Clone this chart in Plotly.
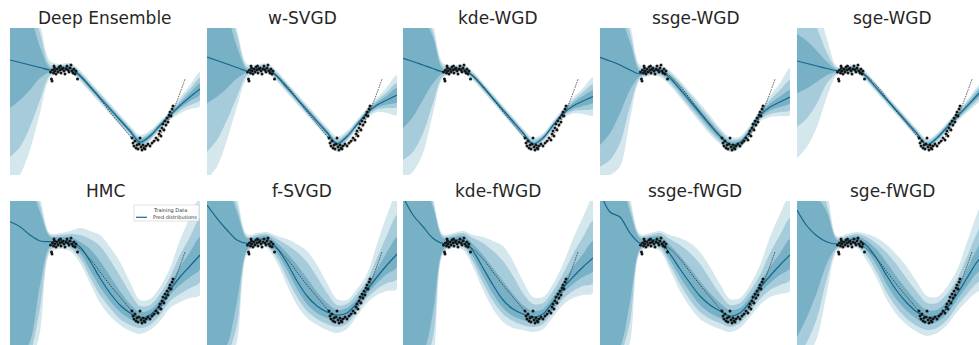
import plotly.graph_objects as go

# ---------------- data ----------------
GRID_X = [0, 1, 2, 3, 4, 5, 6, 7, 8, 9, 10, 11, 12, 13, 14, 15, 16, 17, 18, 19]

TITLES = ["Deep Ensemble", "w-SVGD", "kde-WGD", "ssge-WGD", "sge-WGD",
          "HMC", "f-SVGD", "kde-fWGD", "ssge-fWGD", "sge-fWGD"]

TRUE_X = [4.0, 4.5, 5.0, 5.5, 6.0, 6.5, 7.0, 7.5, 8.0, 8.5, 9.0, 9.5, 10.0, 10.5,
          11.0, 11.5, 12.0, 12.5, 13.0, 13.5, 14.0, 14.5, 15.0, 15.5, 16.0, 16.5, 17.0, 17.5]
TRUE_Y = [10.1, 10.25, 10.35, 10.4, 10.35, 10.15, 9.8, 9.35, 8.8, 8.2, 7.5, 6.85, 6.2, 5.6,
          5.0, 4.4, 3.8, 3.3, 2.95, 2.8, 2.9, 3.3, 3.9, 4.7, 5.7, 6.8, 8.1, 9.5]

TRAIN_X = [4.05, 4.15, 4.2, 4.25, 4.35, 4.4, 4.45, 4.5, 4.6, 4.7, 4.8, 4.9, 5.0, 5.05, 5.1,
           5.2, 5.3, 5.4, 5.5, 5.6, 5.7, 5.8, 5.9, 6.0, 6.1, 6.2, 6.3, 6.4, 6.5, 6.6, 6.75,
           12.2, 12.3, 12.4, 12.5, 12.6, 12.7, 12.8, 12.9, 13.0, 13.1, 13.2, 13.3, 13.4, 13.5,
           13.6, 13.8, 14.0, 14.2, 14.4, 14.6, 14.8, 14.9, 15.0, 15.1, 15.2, 15.3, 15.4, 15.5,
           15.6, 15.7, 15.8, 15.9, 16.0, 16.1, 16.2, 16.3]
TRAIN_Y = [10.2, 9.5, 9.3, 10.4, 10.1, 10.8, 10.6, 10.3, 10.0, 10.5, 10.2, 10.7, 10.4, 10.8, 10.1,
           10.5, 10.6, 10.3, 10.0, 10.5, 10.8, 10.4, 10.2, 10.6, 10.9, 10.3, 10.1, 10.5, 10.0, 10.3, 9.5,
           3.6, 3.1, 2.8, 3.3, 2.6, 2.9, 2.5, 3.0, 3.6, 2.7, 2.4, 2.9, 2.6, 2.5,
           2.8, 3.0, 2.8, 3.1, 3.3, 3.6, 3.4, 4.0, 4.3, 3.8, 4.6, 5.0, 4.4, 5.3,
           4.9, 5.6, 5.2, 5.9, 6.2, 5.8, 6.5, 6.8]

# Deep Ensemble
DE_mean = [11.4, 11.15, 10.9, 10.65, 10.4, 10.55, 10.6, 9.83, 8.72, 7.62, 6.51, 5.4, 4.3, 3.19, 3.8, 4.85, 5.85, 6.85, 7.7, 8.5]
DE_lo1 = [6.6, 7.4, 8.4, 9.6, 10.2, 10.4, 10.45, 9.65, 8.52, 7.42, 6.31, 5.2, 4.1, 2.95, 3.6, 4.65, 5.7, 6.6, 7.3, 7.95]
DE_hi1 = [16.5, 16.0, 15.5, 12.7, 10.6, 10.7, 10.75, 10.03, 8.92, 7.82, 6.71, 5.6, 4.5, 3.45, 4.0, 5.05, 6.0, 7.1, 8.1, 9.05]
DE_lo2 = [1.7, 2.7, 4.7, 7.4, 9.9, 10.25, 10.3, 9.48, 8.37, 7.27, 6.16, 5.05, 3.95, 2.75, 3.45, 4.55, 5.55, 6.35, 6.9, 7.4]
DE_hi2 = [20, 19, 17, 14.1, 10.9, 10.85, 10.9, 10.18, 9.07, 7.97, 6.86, 5.75, 4.65, 3.65, 4.15, 5.15, 6.15, 7.35, 8.5, 9.6]
DE_lo3 = [-1.5, -0.1, 2.4, 6.1, 9.6, 10.1, 10.1, 9.28, 8.17, 7.07, 5.96, 4.85, 3.75, 2.4, 3.25, 4.4, 5.4, 6.05, 6.5, 6.8]
DE_hi3 = [22, 21, 18, 15, 11.3, 11.0, 11.1, 10.38, 9.27, 8.17, 7.06, 5.95, 4.85, 3.9, 4.35, 5.3, 6.3, 7.65, 8.9, 10.2]

# w-SVGD
WS_mean = [11.7, 11.35, 11.0, 10.65, 10.3, 10.5, 10.55, 9.76, 8.64, 7.52, 6.39, 5.27, 4.15, 3.03, 3.75, 4.95, 6.1, 6.9, 7.4, 7.9]
WS_lo1 = [7.07, 7.73, 8.57, 9.57, 10.15, 10.35, 10.4, 9.58, 8.46, 7.34, 6.21, 5.09, 3.95, 2.8, 3.55, 4.8, 5.95, 6.65, 6.95, 7.2]
WS_hi1 = [16.5, 16, 15.5, 12.7, 10.5, 10.65, 10.7, 9.94, 8.82, 7.7, 6.57, 5.45, 4.35, 3.25, 3.95, 5.1, 6.25, 7.15, 7.85, 8.6]
WS_lo2 = [2.23, 3.4, 5.4, 7.73, 9.9, 10.2, 10.25, 9.42, 8.3, 7.18, 6.05, 4.93, 3.8, 2.6, 3.4, 4.65, 5.8, 6.45, 6.6, 6.7]
WS_hi2 = [20, 19, 17, 13.9, 10.7, 10.8, 10.85, 10.1, 8.98, 7.86, 6.73, 5.61, 4.5, 3.45, 4.1, 5.25, 6.4, 7.35, 8.2, 9.1]
WS_lo3 = [-0.5, 0.73, 3.4, 6.73, 9.6, 10.05, 10.05, 9.22, 8.1, 6.98, 5.85, 4.73, 3.6, 2.2, 3.2, 4.5, 5.6, 6.2, 6.1, 5.9]
WS_hi3 = [22, 21, 18, 14.4, 11.0, 10.95, 11.05, 10.3, 9.18, 8.06, 6.93, 5.81, 4.7, 3.75, 4.3, 5.4, 6.6, 7.6, 8.7, 9.9]

# kde-WGD
KW_mean = [11.57, 11.25, 10.9, 10.55, 10.23, 10.45, 10.5, 9.8, 8.7, 7.55, 6.4, 5.25, 4.1, 3.0, 3.6, 4.85, 6.05, 6.8, 7.3, 7.75]
KW_lo1 = [4.57, 5.73, 7.4, 9.07, 10.1, 10.3, 10.35, 9.65, 8.55, 7.4, 6.25, 5.1, 3.95, 2.8, 3.45, 4.7, 5.9, 6.5, 6.8, 7.15]
KW_hi1 = [16.5, 16, 15.5, 13.7, 10.5, 10.6, 10.65, 9.95, 8.85, 7.7, 6.55, 5.4, 4.25, 3.2, 3.75, 5.0, 6.2, 7.1, 7.8, 8.35]
KW_lo2 = [1.4, 2.23, 4.07, 7.07, 9.8, 10.15, 10.2, 9.5, 8.4, 7.25, 6.1, 4.95, 3.8, 2.6, 3.3, 4.55, 5.75, 6.3, 6.4, 6.55]
KW_hi2 = [20, 19, 17, 14.2, 10.8, 10.75, 10.8, 10.1, 9.0, 7.85, 6.7, 5.55, 4.4, 3.4, 3.9, 5.15, 6.35, 7.35, 8.2, 8.95]
KW_lo3 = [-0.5, 0.23, 2.07, 6.07, 9.6, 10.0, 10.05, 9.35, 8.25, 7.1, 5.95, 4.8, 3.65, 2.3, 3.15, 4.4, 5.6, 6.05, 6.0, 5.85]
KW_hi3 = [22, 21, 18, 15, 11.1, 10.9, 10.95, 10.25, 9.15, 8.0, 6.85, 5.7, 4.55, 3.65, 4.05, 5.3, 6.5, 7.6, 8.6, 9.65]

# ssge-WGD
SW_mean = [11.67, 11.3, 10.9, 10.4, 10.0, 10.3, 10.3, 9.6, 8.5, 7.3, 6.1, 4.9, 3.8, 2.95, 3.15, 4.3, 5.85, 6.7, 7.2, 7.7]
SW_lo1 = [2.9, 4.07, 6.07, 8.4, 9.8, 10.1, 10.1, 9.35, 8.2, 6.95, 5.75, 4.55, 3.5, 2.7, 2.95, 4.1, 5.65, 6.35, 6.7, 7.1]
SW_hi1 = [16.5, 16, 15.5, 13.2, 10.3, 10.5, 10.5, 9.85, 8.8, 7.65, 6.45, 5.25, 4.1, 3.2, 3.35, 4.5, 6.05, 7.05, 7.75, 8.4]
SW_lo2 = [0.73, 1.4, 3.07, 6.73, 9.6, 9.95, 9.9, 9.1, 7.9, 6.65, 5.45, 4.25, 3.25, 2.45, 2.75, 3.9, 5.45, 6.0, 6.2, 6.4]
SW_hi2 = [20, 19, 17, 14.1, 10.6, 10.65, 10.7, 10.1, 9.1, 7.95, 6.75, 5.55, 4.35, 3.45, 3.55, 4.7, 6.25, 7.4, 8.4, 9.4]
SW_lo3 = [-0.5, -0.1, 0.73, 5.4, 9.4, 9.8, 9.7, 8.85, 7.65, 6.4, 5.15, 3.95, 3.0, 2.2, 2.55, 3.7, 5.25, 5.7, 5.8, 5.9]
SW_hi3 = [22, 21, 18, 15, 10.9, 10.8, 10.9, 10.35, 9.35, 8.2, 7.05, 5.85, 4.6, 3.7, 3.75, 4.9, 6.45, 7.8, 9.1, 10.6]

# sge-WGD
GW_mean = [11.3, 11.05, 10.8, 10.55, 10.33, 10.45, 10.5, 9.66, 8.54, 7.41, 6.29, 5.17, 4.04, 2.92, 3.61, 4.67, 5.73, 6.79, 7.85, 8.9]
GW_lo1 = [8.07, 8.57, 9.23, 9.9, 10.2, 10.3, 10.35, 9.5, 8.38, 7.25, 6.13, 5.01, 3.88, 2.72, 3.45, 4.5, 5.55, 6.55, 7.55, 8.55]
GW_hi1 = [14.0, 13.3, 12.3, 11.2, 10.45, 10.6, 10.65, 9.82, 8.7, 7.57, 6.45, 5.33, 4.2, 3.12, 3.77, 4.84, 5.9, 7.0, 8.15, 9.25]
GW_lo2 = [4.73, 5.57, 7.07, 9.07, 10.05, 10.15, 10.2, 9.36, 8.24, 7.11, 5.99, 4.87, 3.74, 2.55, 3.3, 4.35, 5.4, 6.35, 7.3, 8.25]
GW_hi2 = [18, 16.5, 14.6, 12.1, 10.6, 10.75, 10.8, 9.96, 8.84, 7.71, 6.59, 5.47, 4.34, 3.3, 3.92, 5.0, 6.05, 7.2, 8.4, 9.55]
GW_lo3 = [1.57, 2.73, 4.73, 7.73, 9.9, 10.0, 10.05, 9.21, 8.09, 6.96, 5.84, 4.72, 3.59, 2.35, 3.15, 4.2, 5.25, 6.15, 7.0, 7.95]
GW_hi3 = [21, 19, 17, 13.5, 10.75, 10.9, 10.95, 10.11, 8.99, 7.86, 6.74, 5.62, 4.49, 3.5, 4.07, 5.15, 6.2, 7.4, 8.7, 9.85]

# HMC
HM_mean = [12.53, 12.03, 11.2, 10.6, 10.53, 10.6, 10.6, 10.0, 8.6, 6.9, 5.4, 4.2, 3.4, 2.9, 3.2, 4.2, 5.7, 7.0, 8.1, 9.2]
HM_lo1 = [-3, -1, 0.53, 6.2, 10.03, 10.2, 10.2, 9.4, 7.7, 6.0, 4.6, 3.5, 2.8, 2.4, 2.7, 3.7, 5.2, 6.2, 7.0, 7.8]
HM_hi1 = [18, 17, 16, 13.5, 11.03, 11.0, 11.0, 10.5, 9.8, 8.6, 7.1, 5.6, 4.3, 3.5, 3.7, 4.7, 6.3, 8.0, 9.5, 11.0]
HM_lo2 = [-5, -3, -0.8, 3.87, 9.7, 10.0, 9.9, 8.9, 7.0, 5.2, 3.9, 2.8, 2.2, 1.9, 2.2, 3.2, 4.6, 5.3, 5.9, 6.5]
HM_hi2 = [20, 19, 17, 14.2, 11.2, 11.2, 11.3, 11.2, 10.8, 10.1, 8.7, 7.1, 5.4, 4.1, 4.2, 5.3, 7.0, 9.2, 11.0, 12.9]
HM_lo3 = [-7, -5, -2, 1.53, 9.4, 9.8, 9.6, 8.4, 6.4, 4.4, 3.1, 2.2, 1.6, 1.3, 1.7, 2.6, 3.9, 4.5, 4.9, 5.2]
HM_hi3 = [22, 21, 18, 15, 11.37, 11.4, 11.6, 11.9, 11.6, 11.2, 10.0, 8.5, 6.5, 4.7, 4.8, 6.0, 7.9, 10.7, 13.0, 15.0]

# f-SVGD
FS_mean = [14.2, 12.87, 11.7, 10.7, 10.37, 10.7, 10.8, 9.9, 8.4, 6.6, 5.1, 4.1, 3.5, 3.2, 3.4, 4.4, 5.7, 7.0, 8.2, 9.3]
FS_lo1 = [-3, -1, 0.2, 4.53, 9.7, 10.4, 10.4, 9.4, 7.7, 5.8, 4.3, 3.4, 2.9, 2.6, 2.9, 4.0, 5.3, 6.4, 7.3, 8.0]
FS_hi1 = [18, 17, 16, 13.5, 10.87, 11.0, 11.1, 10.4, 9.4, 8.2, 6.9, 5.5, 4.4, 3.7, 3.9, 4.8, 6.2, 7.8, 9.5, 11.0]
FS_lo2 = [-5, -3, -1, 2.2, 9.5, 10.2, 10.1, 8.9, 6.9, 5.0, 3.6, 2.8, 2.3, 2.0, 2.3, 3.6, 4.9, 5.8, 6.4, 6.8]
FS_hi2 = [20, 19, 17, 14.2, 11.03, 11.2, 11.3, 10.8, 10.2, 9.5, 8.5, 7.0, 5.4, 4.2, 4.3, 5.3, 6.7, 8.9, 11.2, 13.2]
FS_lo3 = [-7, -5, -2, 0.53, 9.3, 10.0, 9.9, 8.4, 6.2, 4.2, 2.9, 2.2, 1.7, 1.4, 1.8, 3.1, 4.4, 5.2, 5.6, 5.8]
FS_hi3 = [22, 21, 18, 15, 11.27, 11.4, 11.5, 11.1, 10.8, 10.3, 9.6, 8.2, 6.4, 4.8, 4.7, 5.8, 7.3, 10.3, 13.2, 15.5]

# kde-fWGD
KF_mean = [15.0, 13.2, 12.03, 10.87, 10.37, 10.65, 10.7, 9.6, 7.9, 6.2, 4.7, 3.8, 3.3, 3.0, 3.3, 4.5, 5.9, 7.0, 8.0, 8.9]
KF_lo1 = [-3, -1, -0.5, 3.5, 9.7, 10.3, 10.3, 9.0, 7.1, 5.3, 3.9, 3.1, 2.7, 2.5, 2.8, 4.0, 5.4, 6.3, 7.0, 7.6]
KF_hi1 = [19, 18, 16.5, 14.0, 10.9, 11.0, 11.1, 10.3, 9.2, 7.9, 6.6, 5.3, 4.2, 3.6, 3.8, 5.0, 6.5, 8.0, 9.3, 10.6]
KF_lo2 = [-5, -3, -2, 1.0, 9.5, 10.1, 10.0, 8.5, 6.4, 4.6, 3.3, 2.6, 2.2, 2.0, 2.3, 3.5, 4.8, 5.6, 6.1, 6.4]
KF_hi2 = [21, 20, 18, 14.5, 11.1, 11.2, 11.4, 10.9, 10.4, 9.6, 8.6, 7.1, 5.4, 4.3, 4.4, 5.6, 7.3, 9.3, 11.0, 12.6]
KF_lo3 = [-7, -5, -3, -1, 9.3, 9.9, 9.7, 8.0, 5.7, 3.8, 2.5, 1.9, 1.7, 1.5, 1.8, 3.0, 4.2, 4.9, 5.2, 5.4]
KF_hi3 = [23, 22, 20, 15, 11.3, 11.4, 11.6, 11.2, 11.0, 10.6, 10.1, 8.6, 6.6, 5.0, 5.0, 6.3, 8.3, 10.8, 13.0, 15.0]

# ssge-fWGD
SF_mean = [15.5, 13.5, 13.0, 11.4, 10.4, 10.7, 10.6, 9.3, 7.8, 6.4, 5.1, 4.2, 3.6, 3.1, 3.4, 4.5, 5.9, 7.1, 8.2, 9.2]
SF_lo1 = [-3, -1, 0.0, 4.5, 9.8, 10.3, 10.2, 8.7, 7.0, 5.5, 4.2, 3.4, 2.9, 2.5, 2.9, 4.0, 5.4, 6.4, 7.2, 7.9]
SF_hi1 = [19, 18, 17, 13.5, 10.9, 11.0, 11.1, 10.2, 9.1, 7.9, 6.6, 5.4, 4.4, 3.7, 3.9, 5.0, 6.5, 8.0, 9.4, 10.8]
SF_lo2 = [-5, -3, -1, 2.5, 9.6, 10.1, 9.9, 8.2, 6.3, 4.7, 3.5, 2.8, 2.4, 2.0, 2.4, 3.5, 4.8, 5.7, 6.2, 6.7]
SF_hi2 = [21, 20, 18, 14.2, 11.1, 11.2, 11.4, 10.8, 10.2, 9.4, 8.3, 6.8, 5.3, 4.2, 4.4, 5.6, 7.2, 9.4, 11.2, 12.9]
SF_lo3 = [-7, -5, -2, 0.5, 9.4, 9.9, 9.6, 7.7, 5.6, 4.0, 2.8, 2.2, 1.8, 1.5, 1.9, 3.0, 4.2, 5.0, 5.3, 5.6]
SF_hi3 = [23, 22, 20, 15, 11.3, 11.4, 11.6, 11.2, 10.9, 10.4, 9.5, 8.0, 6.3, 4.8, 4.9, 6.2, 8.2, 11.0, 13.3, 15.2]

# sge-fWGD
GF_mean = [13.7, 12.1, 11.1, 10.5, 10.3, 10.6, 10.8, 10.1, 8.8, 7.1, 5.6, 4.4, 3.5, 3.0, 3.1, 3.9, 5.3, 6.9, 8.5, 9.6]
GF_lo1 = [1.0, 3.0, 5.5, 8.4, 10.0, 10.3, 10.4, 9.6, 8.1, 6.2, 4.7, 3.6, 2.8, 2.3, 2.5, 3.3, 4.7, 6.1, 7.4, 8.2]
GF_hi1 = [18, 16, 15, 13.5, 10.7, 10.9, 11.1, 10.6, 9.7, 8.4, 7.0, 5.7, 4.5, 3.7, 3.7, 4.6, 6.0, 7.8, 9.8, 11.2]
GF_lo2 = [-1, 0.5, 2.9, 6.9, 9.8, 10.1, 10.1, 9.1, 7.4, 5.4, 3.9, 2.8, 2.1, 1.7, 1.9, 2.7, 4.1, 5.3, 6.4, 7.0]
GF_hi2 = [20, 18, 17, 14.2, 10.9, 11.1, 11.3, 11.0, 10.3, 9.4, 8.2, 6.8, 5.5, 4.4, 4.4, 5.3, 6.8, 9.0, 11.4, 13.2]
GF_lo3 = [-2, -1, 0.9, 5.5, 9.6, 9.9, 9.9, 8.6, 6.8, 4.7, 3.2, 2.2, 1.5, 1.1, 1.4, 2.2, 3.5, 4.6, 5.5, 5.8]
GF_hi3 = [22, 20, 18, 15.5, 11.1, 11.3, 11.5, 11.3, 10.9, 10.2, 9.2, 8.0, 6.5, 5.1, 5.0, 6.0, 7.7, 10.5, 13.3, 15.5]

PANELS = [
    (DE_mean, DE_lo1, DE_hi1, DE_lo2, DE_hi2, DE_lo3, DE_hi3),
    (WS_mean, WS_lo1, WS_hi1, WS_lo2, WS_hi2, WS_lo3, WS_hi3),
    (KW_mean, KW_lo1, KW_hi1, KW_lo2, KW_hi2, KW_lo3, KW_hi3),
    (SW_mean, SW_lo1, SW_hi1, SW_lo2, SW_hi2, SW_lo3, SW_hi3),
    (GW_mean, GW_lo1, GW_hi1, GW_lo2, GW_hi2, GW_lo3, GW_hi3),
    (HM_mean, HM_lo1, HM_hi1, HM_lo2, HM_hi2, HM_lo3, HM_hi3),
    (FS_mean, FS_lo1, FS_hi1, FS_lo2, FS_hi2, FS_lo3, FS_hi3),
    (KF_mean, KF_lo1, KF_hi1, KF_lo2, KF_hi2, KF_lo3, KF_hi3),
    (SF_mean, SF_lo1, SF_hi1, SF_lo2, SF_hi2, SF_lo3, SF_hi3),
    (GF_mean, GF_lo1, GF_hi1, GF_lo2, GF_hi2, GF_lo3, GF_hi3),
]

# ---------------- style / layout ----------------
W, H = 979, 345
C_LIGHT = "#d4e7ed"
C_MED = "#a6cbda"
C_DARK = "#78b0c5"
C_MEAN = "#13698c"
COL_LEFT = [10, 207, 403, 600, 797]
PANEL_W = 190
ROW_TOP = [28, 201]
ROW_BOT = [175, 345]
ROW_YRANGE = [[-0.1, 14.6], [0.2, 14.6]]

fig = go.Figure()
layout_axes = {}
annotations = []

for i, (mean, lo1, hi1, lo2, hi2, lo3, hi3) in enumerate(PANELS):
    row, col = divmod(i, 5)
    n = i + 1
    xa = "x" if n == 1 else f"x{n}"
    ya = "y" if n == 1 else f"y{n}"
    left = COL_LEFT[col]
    right = min(left + PANEL_W, W)
    xmax = (right - left) / 10.0
    layout_axes["xaxis" if n == 1 else f"xaxis{n}"] = dict(
        domain=[left / W, right / W], range=[0, xmax], visible=False,
        anchor=ya, fixedrange=True)
    layout_axes["yaxis" if n == 1 else f"yaxis{n}"] = dict(
        domain=[1 - ROW_BOT[row] / H, 1 - ROW_TOP[row] / H], range=ROW_YRANGE[row],
        visible=False, anchor=xa, fixedrange=True)

    for lo, hi, c in [(lo3, hi3, C_LIGHT), (lo2, hi2, C_MED), (lo1, hi1, C_DARK)]:
        fig.add_trace(go.Scatter(
            x=GRID_X + GRID_X[::-1], y=hi + lo[::-1], xaxis=xa, yaxis=ya,
            fill="toself", fillcolor=c, mode="lines",
            line=dict(width=0, shape="spline", smoothing=0.9, color=c),
            hoverinfo="skip", showlegend=False))
    fig.add_trace(go.Scatter(
        x=GRID_X, y=mean, xaxis=xa, yaxis=ya, mode="lines",
        line=dict(color=C_MEAN, width=1.2, shape="spline", smoothing=0.9),
        hoverinfo="skip", showlegend=False))
    fig.add_trace(go.Scatter(
        x=TRUE_X, y=TRUE_Y, xaxis=xa, yaxis=ya, mode="lines",
        line=dict(color="#333333", width=0.8, dash="1.5px,1px", shape="spline"),
        hoverinfo="skip", showlegend=False))
    fig.add_trace(go.Scatter(
        x=TRAIN_X, y=TRAIN_Y, xaxis=xa, yaxis=ya, mode="markers",
        marker=dict(color="#151515", size=3.0, line=dict(width=0)),
        hoverinfo="skip", showlegend=False))

    cx = (left + PANEL_W / 2) / W
    ty = 1 - (18 if row == 0 else 191) / H
    annotations.append(dict(
        text=TITLES[i], x=cx, y=ty, xref="paper", yref="paper",
        xanchor="center", yanchor="middle", showarrow=False,
        font=dict(family="DejaVu Sans", size=17, color="#262626")))

# legend in HMC panel (drawn manually to match the tiny matplotlib legend)
LEG_BOX = [134, 205, 199, 221]
annotations.append(dict(text="Training Data", x=150.5 / W, y=1 - 210 / H, xref="paper", yref="paper",
                        xanchor="left", yanchor="middle", showarrow=False,
                        font=dict(family="DejaVu Sans", size=5, color="#333333")))
annotations.append(dict(text="Pred distributions", x=150.5 / W, y=1 - 217.3 / H, xref="paper", yref="paper",
                        xanchor="left", yanchor="middle", showarrow=False,
                        font=dict(family="DejaVu Sans", size=5, color="#333333")))
shapes = [
    dict(type="rect", xref="paper", yref="paper", x0=LEG_BOX[0] / W, x1=LEG_BOX[2] / W,
         y0=1 - LEG_BOX[3] / H, y1=1 - LEG_BOX[1] / H, line=dict(color="#cccccc", width=0.6),
         fillcolor="rgba(255,255,255,0.85)", layer="above"),
    dict(type="line", xref="paper", yref="paper", x0=136 / W, x1=147 / W,
         y0=1 - 217.3 / H, y1=1 - 217.3 / H, line=dict(color=C_MEAN, width=1.2), layer="above"),
]

fig.update_layout(
    width=W, height=H, autosize=False,
    margin=dict(l=0, r=0, t=0, b=0, pad=0),
    paper_bgcolor="white", plot_bgcolor="white",
    showlegend=False, annotations=annotations, shapes=shapes,
    **layout_axes)

fig.write_html("out.html", config={"displayModeBar": False, "staticPlot": True},
               post_script="document.body.style.margin='0';document.body.style.overflow='hidden';")
